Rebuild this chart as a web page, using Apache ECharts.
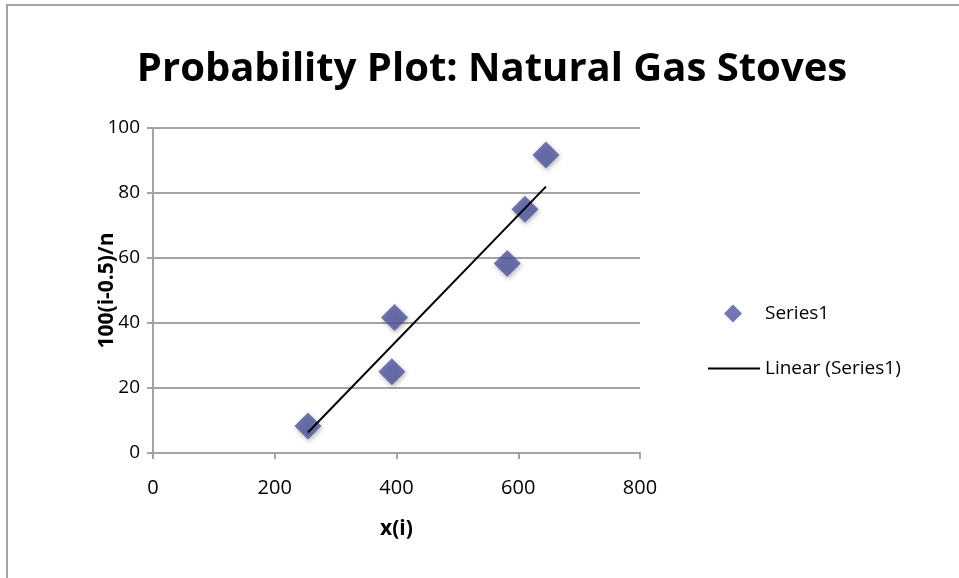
<!DOCTYPE html>
<html>
<head>
<meta charset="utf-8">
<script src="https://cdn.jsdelivr.net/npm/echarts@6/dist/echarts.min.js"></script>
<style>html,body{margin:0;padding:0;background:#fff}#c{width:959px;height:578px}</style>
</head>
<body>
<div id="c"></div>
<script>
const titleText = 'Probability Plot: Natural Gas Stoves';
const xValues = [254.5, 392.4, 396.7, 581.8, 611.0, 645.5];
const yValues = [8.33, 25.0, 41.67, 58.33, 75.0, 91.67];
const xTicks = [0, 200, 400, 600, 800];
const yTicks = [0, 20, 40, 60, 80, 100];
const seriesName = 'Series1';
const trendName = 'Linear (Series1)';

const pts = xValues.map((x, i) => [x, yValues[i]]);
const n = xValues.length;
const mx = xValues.reduce((a, b) => a + b, 0) / n;
const my = yValues.reduce((a, b) => a + b, 0) / n;
let sxy = 0, sxx = 0;
for (let i = 0; i < n; i++) { sxy += (xValues[i] - mx) * (yValues[i] - my); sxx += (xValues[i] - mx) ** 2; }
const slope = sxy / sxx, icpt = my - slope * mx;
const xmin = Math.min(...xValues), xmax = Math.max(...xValues);
const trend = [[xmin, icpt + slope * xmin], [xmax, icpt + slope * xmax]];

const FONT = 'Open Sans';
const gray = '#a3a3a3';
const chart = echarts.init(document.getElementById('c'));
chart.setOption({
  animation: false,
  textStyle: { fontFamily: FONT },
  title: {
    text: titleText, left: 487, top: 45, textAlign: 'center',
    textStyle: { fontFamily: FONT, fontWeight: 'bold', fontSize: 40, color: '#000' }
  },
  graphic: [{
    type: 'rect', shape: { x: 7, y: 5, width: 1000, height: 700 },
    style: { fill: 'none', stroke: gray, lineWidth: 2 }, silent: true
  }],
  legend: [{
    left: 719, top: 299, itemWidth: 18, itemHeight: 18,
    textStyle: { fontFamily: FONT, fontSize: 19, color: '#000', padding: [0, 0, 0, 18] },
    data: [{ name: seriesName, icon: 'diamond' }]
  }, {
    left: 703, top: 354, itemWidth: 52, itemHeight: 2,
    textStyle: { fontFamily: FONT, fontSize: 19, color: '#000' },
    data: [{ name: trendName, icon: 'rect', itemStyle: { color: '#000' } }]
  }],
  grid: { left: 153, right: 319, top: 128, bottom: 125 },
  xAxis: {
    type: 'value', min: 0, max: 800, interval: 200,
    name: 'x(i)', nameLocation: 'middle', nameGap: 66, nameMoveOverlap: false,
    nameTextStyle: { fontFamily: FONT, fontWeight: 'bold', fontSize: 21, color: '#000' },
    axisLine: { show: true, onZero: false, lineStyle: { color: gray, width: 2 } },
    axisTick: { show: true, length: 6, lineStyle: { color: gray, width: 2 } },
    axisLabel: { margin: 25, fontSize: 20, color: '#000', fontFamily: FONT,
      formatter: v => xTicks.includes(v) ? String(v) : '' },
    splitLine: { show: false }
  },
  yAxis: [{
    type: 'value', min: 0, max: 100, interval: 20,
    name: '100(i-0.5)/n', nameLocation: 'middle', nameGap: 35, nameRotate: 90, nameMoveOverlap: false,
    nameTextStyle: { fontFamily: FONT, fontWeight: 'bold', fontSize: 21, color: '#000' },
    axisLine: { show: true, lineStyle: { color: gray, width: 2 } },
    axisTick: { show: true, length: 6, lineStyle: { color: gray, width: 2 } },
    axisLabel: { margin: 13, fontSize: 19, color: '#000', fontFamily: FONT,
      formatter: v => yTicks.includes(v) ? String(v) : '' },
    splitLine: { show: true, lineStyle: { color: gray, width: 2 } }
  }, {
    type: 'value', min: 0, max: 100, interval: 20, position: 'left',
    axisLine: { show: false },
    axisTick: { show: true, inside: true, length: 5, lineStyle: { color: gray, width: 2 } },
    axisLabel: { show: false }, splitLine: { show: false }
  }],
  series: [{
    name: seriesName, type: 'scatter', data: pts, symbol: 'diamond', symbolSize: 27,
    itemStyle: { color: '#4f559e', shadowColor: 'rgba(0,0,0,0.35)', shadowBlur: 5, shadowOffsetX: 1, shadowOffsetY: 2 },
    z: 2
  }, {
    name: trendName, type: 'line', data: trend, symbol: 'none', showSymbol: false,
    lineStyle: { color: '#000', width: 2 }, itemStyle: { color: '#000' }, z: 3
  }]
});
</script>
</body>
</html>
